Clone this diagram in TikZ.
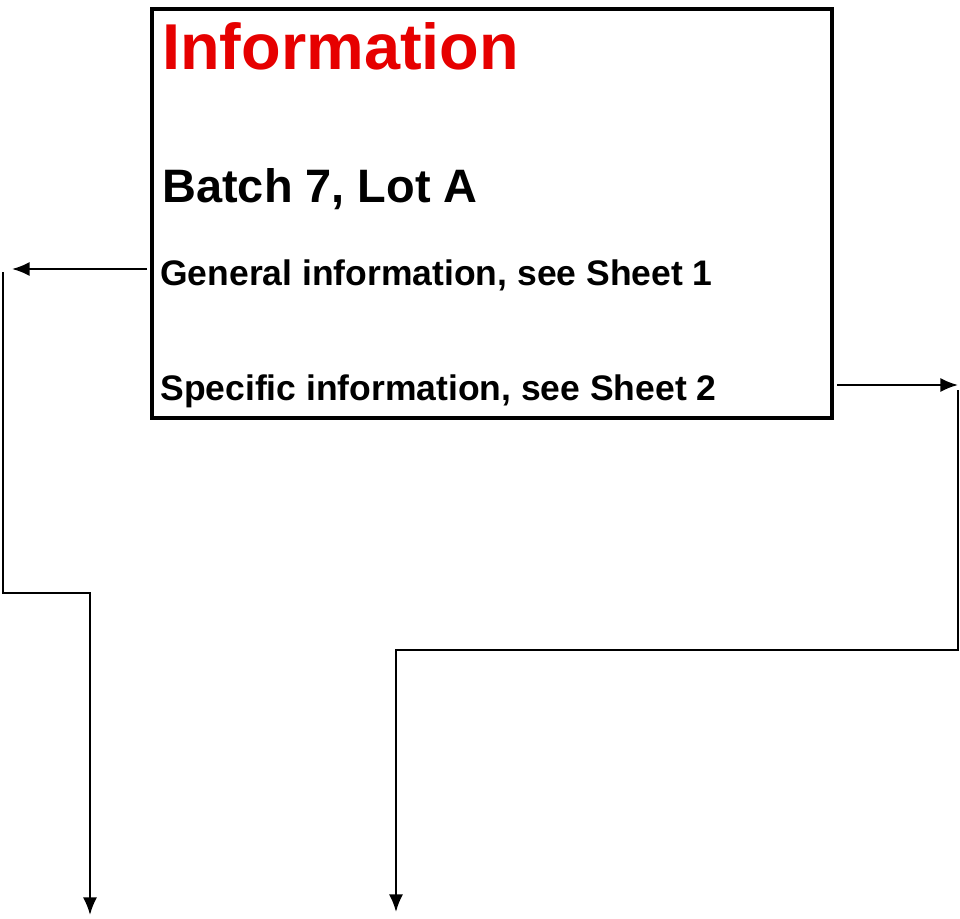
\documentclass[tikz,border=0pt]{standalone}
\usepackage{fontspec}
\setmainfont{Liberation Sans}
\usetikzlibrary{positioning}
\definecolor{titlered}{RGB}{230,0,0}
\tikzset{
  lbl/.style={anchor=base west, inner sep=0pt, font=\bfseries},
  conn/.style={line width=1.2pt},
  tip/.style={conn, -{Latex[length=10pt,width=8pt]}}
}
\usetikzlibrary{arrows.meta}
\begin{document}
\begin{tikzpicture}[x=0.02cm, y=-0.02cm]
  \useasboundingbox (0,0) rectangle (960,919);
  \node[draw, line width=2.5pt, minimum width=680*0.02cm, minimum height=409*0.02cm, anchor=north west] (box) at (150,7) {};
  \node[lbl, text=titlered, font=\fontsize{36.9}{40}\bfseries\selectfont] (title) at (162,70) {Information};
  \node[lbl, font=\fontsize{26.7}{28}\bfseries\selectfont] (batch) at (162,202) {Batch 7, Lot A};
  \node[lbl, font=\fontsize{20.2}{22}\bfseries\selectfont] (gen) at (160,285) {General information, see Sheet 1};
  \node[lbl, font=\fontsize{20.2}{22}\bfseries\selectfont] (spec) at (160,400) {Specific information, see Sheet 2};

  \coordinate (gtip) at (12,269);
  \coordinate (gtop) at (3,272);
  \coordinate (gbend) at (3,593);
  \coordinate (gend) at (90,915);
  \coordinate (stip) at (958,385);
  \coordinate (stop) at (958,390);
  \coordinate (sbend) at (958,650);
  \coordinate (send) at (396,912);

  \draw[tip] (box.west |- gtip) ++(-3,0) -- (gtip);
  \draw[tip] (gtop) -- (gbend) -| (gend);
  \draw[tip] (box.east |- stip) ++(3,0) -- (stip);
  \draw[tip] (stop) -- (sbend) -| (send);
\end{tikzpicture}
\end{document}
